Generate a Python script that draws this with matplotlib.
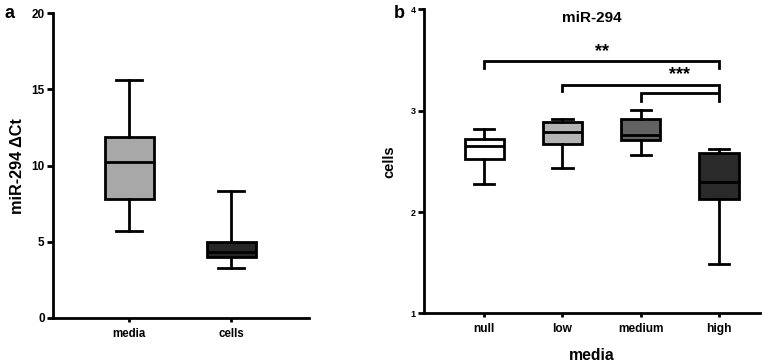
import matplotlib
matplotlib.use("Agg")
import matplotlib.pyplot as plt

plt.rcParams['font.family'] = ['Liberation Sans', 'DejaVu Sans']
plt.rcParams['font.weight'] = 'bold'

# Panel a data
a_labels = ["media", "cells"]
a_whislo = [5.74, 3.29]
a_q1 = [7.8, 4.03]
a_med = [10.24, 4.32]
a_q3 = [11.9, 5.02]
a_whishi = [15.6, 8.31]
a_colors = ["#a8a8a8", "#262626"]

# Panel b data
b_labels = ["null", "low", "medium", "high"]
b_whislo = [2.28, 2.43, 2.56, 1.49]
b_q1 = [2.52, 2.67, 2.71, 2.13]
b_med = [2.65, 2.79, 2.76, 2.30]
b_q3 = [2.72, 2.89, 2.92, 2.58]
b_whishi = [2.82, 2.92, 3.01, 2.62]
b_colors = ["#ffffff", "#b4b4b4", "#626262", "#2a2a2a"]

# significance brackets: (start index, end index, y, drop)
sig_pairs = [(0, 3, 3.49, 0.07), (1, 3, 3.25, 0.06), (2, 3, 3.17, 0.07)]
sig_texts = [("**", 1.5, 3.58), ("***", 2.5, 3.36)]

LW = 2.0

fig = plt.figure(figsize=(7.62, 3.64), dpi=100)
axa = fig.add_axes([0.0696, 0.1264, 0.336, 0.837])
axb = fig.add_axes([0.5564, 0.139, 0.4406, 0.8354])

def draw(ax, labels, lo, q1, med, q3, hi, colors, width, capw, xfs, yfs):
    stats = []
    for i in range(len(labels)):
        stats.append(dict(label=labels[i], whislo=lo[i], q1=q1[i], med=med[i],
                          q3=q3[i], whishi=hi[i], fliers=[]))
    pos = list(range(1, len(labels) + 1))
    bp = ax.bxp(stats, positions=pos, widths=width, patch_artist=True,
                showfliers=False, capwidths=capw,
                boxprops=dict(linewidth=LW, edgecolor='black'),
                medianprops=dict(color='black', linewidth=LW),
                whiskerprops=dict(color='black', linewidth=LW),
                capprops=dict(color='black', linewidth=LW))
    for p, c in zip(bp['boxes'], colors):
        p.set_facecolor(c)
    for s in ['top', 'right']:
        ax.spines[s].set_visible(False)
    for s in ['left', 'bottom']:
        ax.spines[s].set_linewidth(LW)
    ax.tick_params(axis='y', width=LW, length=4, labelsize=yfs, pad=2)
    ax.tick_params(axis='x', width=LW, length=3, labelsize=xfs, pad=4)
    ax.set_xticks(pos)
    ax.set_xticklabels(labels, fontweight='bold')

draw(axa, a_labels, a_whislo, a_q1, a_med, a_q3, a_whishi, a_colors, 0.48, 0.25, 8.3, 8.5)
axa.set_ylim(0, 20)
axa.set_xlim(0.255, 2.765)
axa.set_yticks([0, 5, 10, 15, 20])
axa.set_yticklabels(["0", "5", "10", "15", "20"], fontweight='bold')
axa.set_ylabel("miR-294 ΔCt", fontsize=11.7, fontweight='bold', labelpad=5)

draw(axb, b_labels, b_whislo, b_q1, b_med, b_q3, b_whishi, b_colors, 0.5, 0.26, 8.6, 6.5)
axb.set_ylim(1, 4)
axb.set_xlim(0.23, 4.52)
axb.set_yticks([1, 2, 3, 4])
axb.set_yticklabels(["1", "2", "3", "4"], fontweight='bold')
axb.set_ylabel("cells", fontsize=10.5, fontweight='bold', labelpad=10)
axb.set_xlabel("media", fontsize=11.3, fontweight='bold', labelpad=9)
axb.set_title("miR-294", fontsize=11, fontweight='bold', pad=-4, y=0.975)

for s, e, y, d in sig_pairs:
    axb.plot([s + 1, s + 1, e + 1, e + 1], [y - d, y, y, y - d], color='black',
             linewidth=LW, solid_joinstyle='miter', clip_on=False)
for txt, x, y in sig_texts:
    axb.text(x + 1, y, txt, ha='center', va='center', fontsize=13, fontweight='bold')

fig.text(0.006, 0.962, "a", fontsize=13, fontweight='bold', va='center')
fig.text(0.517, 0.962, "b", fontsize=13, fontweight='bold', va='center')

fig.savefig("out.png", dpi=100)
